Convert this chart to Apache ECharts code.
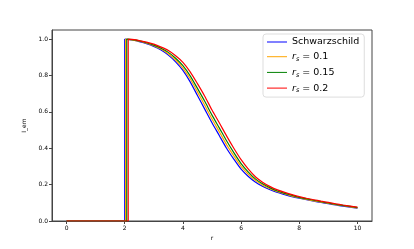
<!DOCTYPE html>
<html><head><meta charset="utf-8">
<script src="https://cdn.jsdelivr.net/npm/echarts@6/dist/echarts.min.js"></script>
<style>html,body{margin:0;padding:0;background:#fff}#c{width:414px;height:249px}</style>
</head><body><div id="c"></div>
<script>
var rGrid = [2.25,2.5,2.75,3.0,3.25,3.5,3.75,4.0,4.25,4.5,4.75,5.0,5.25,5.5,5.75,6.0,6.25,6.5,6.75,7.0,7.25,7.5,7.75,8.0,8.25,8.5,8.75,9.0,9.25,9.5,9.75,10.0];
var seriesNames = ['Schwarzschild', 'rs = 0.1', 'rs = 0.15', 'rs = 0.2'];
var horizons = [2.0, 2.03, 2.07, 2.12];
var schwarzschild = [0.995,0.986,0.975,0.96,0.94,0.912,0.875,0.828,0.765,0.69,0.615,0.54,0.47,0.40,0.34,0.285,0.245,0.213,0.19,0.172,0.157,0.145,0.134,0.125,0.117,0.109,0.102,0.095,0.088,0.082,0.076,0.07];
var rs010 = [0.996,0.988,0.977,0.964,0.945,0.919,0.885,0.841,0.782,0.71,0.636,0.561,0.491,0.42,0.358,0.30,0.257,0.222,0.197,0.177,0.161,0.149,0.137,0.128,0.119,0.111,0.104,0.097,0.09,0.084,0.078,0.072];
var rs015 = [0.997,0.99,0.98,0.967,0.95,0.927,0.895,0.854,0.798,0.729,0.658,0.582,0.512,0.441,0.376,0.316,0.269,0.23,0.203,0.182,0.165,0.152,0.141,0.13,0.122,0.114,0.106,0.099,0.092,0.086,0.08,0.074];
var rs020 = [0.998,0.992,0.983,0.972,0.956,0.937,0.908,0.872,0.82,0.755,0.686,0.61,0.54,0.468,0.40,0.337,0.285,0.242,0.212,0.189,0.171,0.157,0.145,0.134,0.125,0.117,0.109,0.102,0.095,0.088,0.082,0.076];
var xTicks = [0,2,4,6,8,10];
var yTicks = [0,0.2,0.4,0.6,0.8,1.0];
var colors = ['#0000ff','#ffa500','#008000','#ff0000'];
var allVals = [schwarzschild, rs010, rs015, rs020];

function stepPart(i){
  var h = horizons[i];
  return [[0,0],[h,0],[h,1]];
}
function curvePart(i){
  var d = [[horizons[i],1]];
  rGrid.forEach(function(r,k){ d.push([r, allVals[i][k]]); });
  return d;
}
var chart = echarts.init(document.getElementById('c'));
var font = 'DejaVu Sans';
var legendLabels = {
  'Schwarzschild': 'Schwarzschild',
  'rs = 0.1': '{i|r}{s|s}{t| = 0.1}',
  'rs = 0.15': '{i|r}{s|s}{t| = 0.15}',
  'rs = 0.2': '{i|r}{s|s}{t| = 0.2}'
};
var series = [];
seriesNames.forEach(function(n,i){
  series.push({name:n,type:'line',data:stepPart(i),showSymbol:false,symbol:'none',
    lineStyle:{color:colors[i],width:1.2},itemStyle:{color:colors[i]},z:2+i});
  series.push({name:n,type:'line',data:curvePart(i),showSymbol:false,symbol:'none',
    smooth:0.25,
    lineStyle:{color:colors[i],width:1.2},itemStyle:{color:colors[i]},z:2+i});
});
chart.setOption({
  animation:false,
  grid:{left:52,right:42,top:30,bottom:28,show:true,borderColor:'#444',borderWidth:1},
  legend:{
    orient:'vertical', left:263, top:34,
    backgroundColor:'#fff', borderColor:'#ddd', borderWidth:1, borderRadius:3,
    padding:[3,5,3,4], itemGap:4.7, itemWidth:20, itemHeight:10,
    icon:'path://M0,4.5 L20,4.5 L20,5.5 L0,5.5 Z',
    textStyle:{fontFamily:font,fontSize:9.5,color:'#000',
      rich:{i:{fontStyle:'italic',fontSize:9.5,fontFamily:font},
            s:{fontStyle:'italic',fontSize:6.5,fontFamily:font,padding:[5,0,0,0]},
            t:{fontSize:9.5,fontFamily:font}}},
    formatter:function(n){return legendLabels[n];},
    data:seriesNames
  },
  xAxis:{type:'value',min:-0.5,max:10.5,name:'r',nameLocation:'middle',nameGap:14,
    nameTextStyle:{fontFamily:font,fontSize:6,color:'#000'},
    axisLine:{show:true,onZero:false,lineStyle:{color:'#444',width:1}},
    axisTick:{show:true,inside:false,length:3,customValues:xTicks,lineStyle:{color:'#444'}},
    axisLabel:{customValues:xTicks,fontFamily:font,fontSize:6,color:'#000',margin:4},
    splitLine:{show:false}},
  yAxis:{type:'value',min:0,max:1.05,name:'I_em',nameLocation:'middle',nameGap:19,nameRotate:90,
    nameTextStyle:{fontFamily:font,fontSize:6,color:'#000'},
    axisLine:{show:true,onZero:false,lineStyle:{color:'#444',width:1}},
    axisTick:{show:true,inside:false,length:3,customValues:yTicks,lineStyle:{color:'#444'}},
    axisLabel:{customValues:yTicks,fontFamily:font,fontSize:6,color:'#000',margin:4,
      formatter:function(v){return v.toFixed(1);}},
    splitLine:{show:false}},
  series:series
});
</script></body></html>
